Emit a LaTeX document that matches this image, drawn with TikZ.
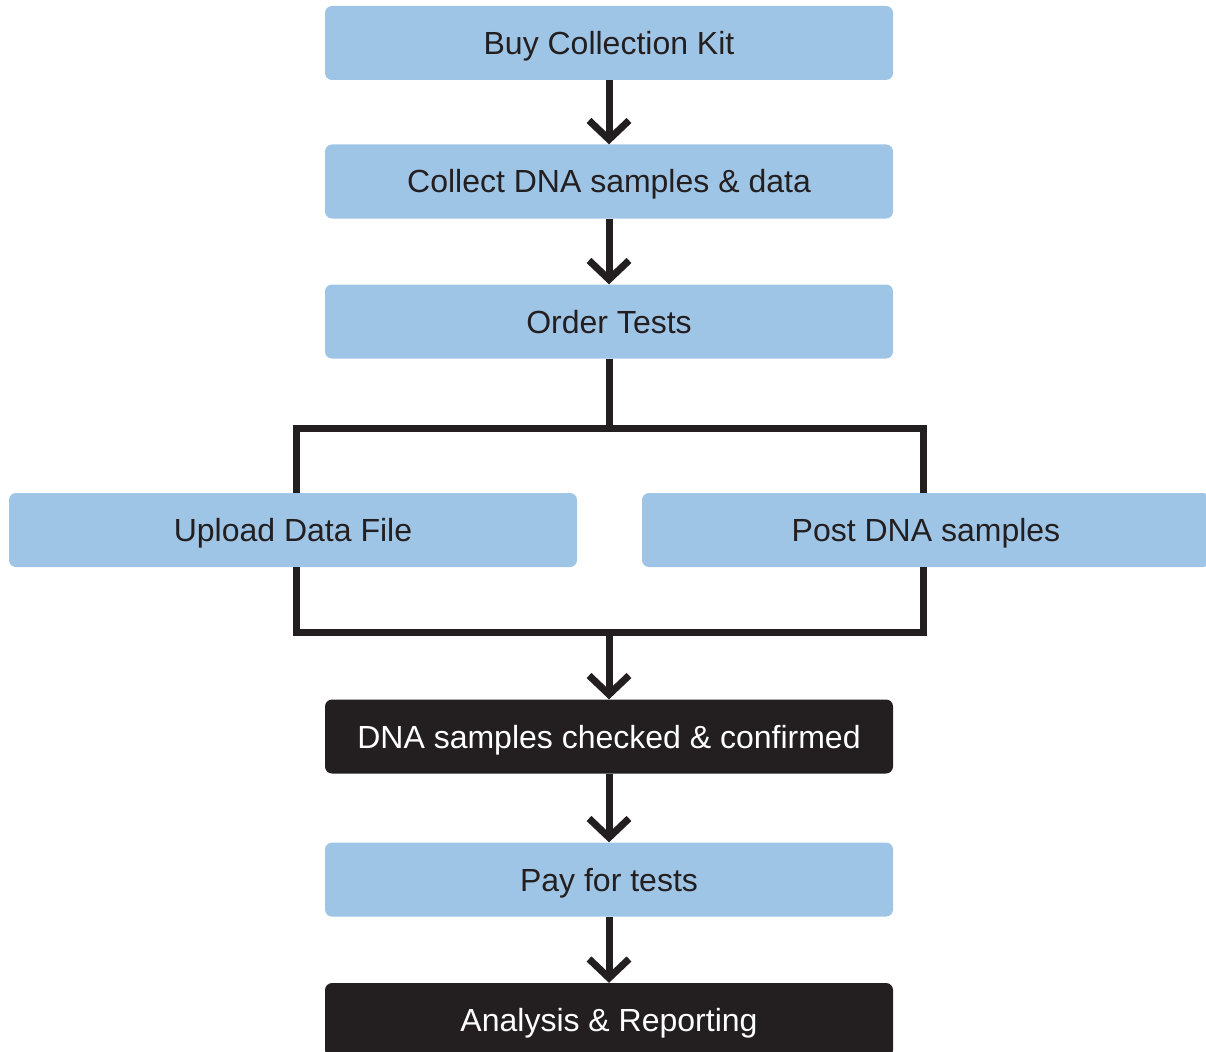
\documentclass[tikz,border=0pt]{standalone}
\usepackage{fontspec}
\setmainfont{Liberation Sans}
\usetikzlibrary{arrows.meta}
\definecolor{boxblue}{HTML}{9FC5E6}
\definecolor{ink}{HTML}{231F20}
\begin{document}
\begin{tikzpicture}[x=1pt,y=-1pt,
  stepbox/.style={fill=boxblue,text=ink,rounded corners=7pt,minimum width=568pt,minimum height=74pt,inner sep=0pt,text height=23pt,text depth=0pt,font=\fontsize{32}{36}\selectfont},
  darkbox/.style={stepbox,fill=ink,text=white},
  conn/.style={draw=ink,line width=7pt,line join=miter},
  arr/.style={conn,-{Straight Barb[length=19pt,width=40pt]}}]
\useasboundingbox (0,0) rectangle (1206,1051);
\node[stepbox] (n1) at (609,43) {Buy Collection Kit};
\node[stepbox] (n2) at (609,181.5) {Collect DNA samples \& data};
\node[stepbox] (n3) at (609,321.5) {Order Tests};
\node[stepbox] (n4) at (293,530) {Upload Data File};
\node[stepbox] (n5) at (926,530) {Post DNA samples};
\node[darkbox] (n6) at (609,736.5) {DNA samples checked \& confirmed};
\node[stepbox] (n7) at (609,879.5) {Pay for tests};
\node[darkbox] (n8) at (609,1020) {Analysis \& Reporting};
\coordinate (jt) at (609,428);
\coordinate (jl) at (296,428);
\coordinate (jr) at (923,428);
\coordinate (bl) at (296,632);
\coordinate (br) at (923,632);
\coordinate (bm) at (609,632);
\draw[arr] (n1.south) -- (n2.north);
\draw[arr] (n2.south) -- (n3.north);
\draw[conn] (n3.south) -- (jt);
\draw[conn] (jl |- n4.north) -- (jl) -- (jr) -- (jr |- n5.north);
\draw[conn] (bl |- n4.south) -- (bl) -- (br) -- (br |- n5.south);
\draw[arr] (bm) -- (n6.north);
\draw[arr] (n6.south) -- (n7.north);
\draw[arr] (n7.south) -- (n8.north);
\end{tikzpicture}
\end{document}
